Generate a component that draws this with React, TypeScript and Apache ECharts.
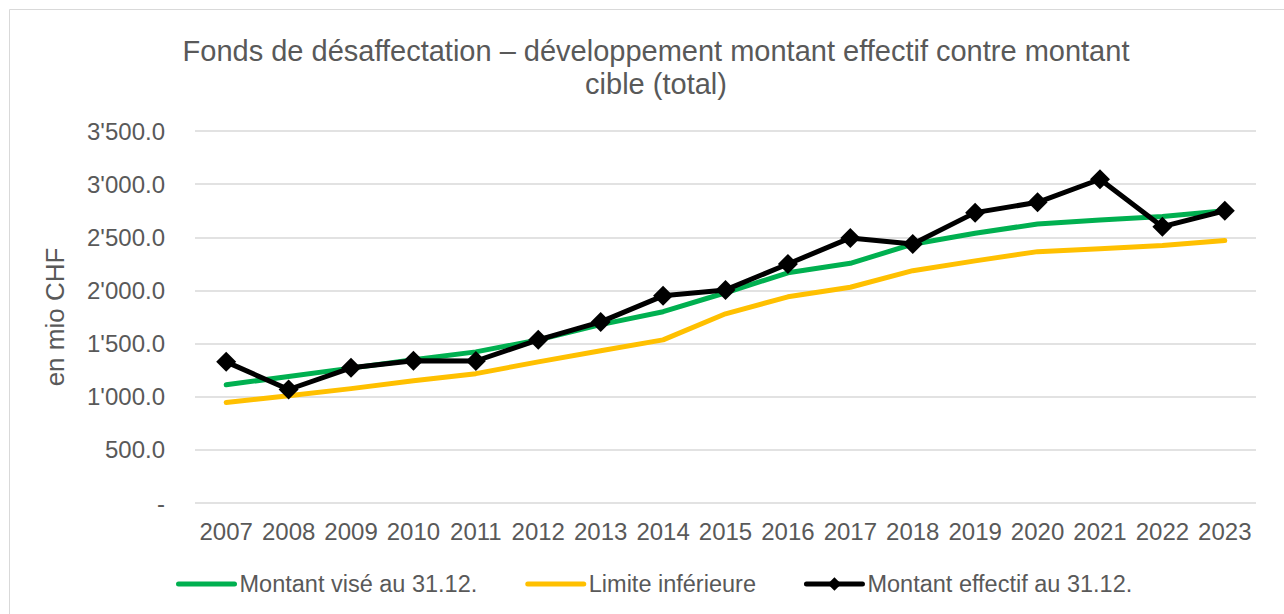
import React, { useEffect, useRef } from "react";
import * as echarts from "echarts";

const years = ["2007","2008","2009","2010","2011","2012","2013","2014","2015","2016","2017","2018","2019","2020","2021","2022","2023"];
const montantVise = [1112, 1190, 1269, 1347, 1422, 1535, 1678, 1800, 1978, 2166, 2255, 2435, 2538, 2625, 2663, 2696, 2750];
const limiteInferieure = [945, 1009, 1076, 1151, 1217, 1328, 1433, 1535, 1780, 1940, 2030, 2186, 2278, 2365, 2393, 2422, 2469];
const montantEffectif = [1328, 1068, 1272, 1338, 1336, 1535, 1704, 1949, 2005, 2249, 2494, 2437, 2732, 2829, 3046, 2600, 2750];
const seriesNames = ["Montant visé au 31.12.", "Limite inférieure", "Montant effectif au 31.12."];
const titleText = "Fonds de désaffectation – développement montant effectif contre montant\ncible (total)";
const yAxisName = "en mio CHF";

const FONT = "'Liberation Sans', Arial, sans-serif";
const TXT = "#595959";

function fmt(v: number): string {
  if (v === 0) return "-";
  const s = v.toFixed(1);
  const [i, d] = s.split(".");
  return i.replace(/\B(?=(\d{3})+(?!\d))/g, "'") + "." + d;
}

export default function App() {
  const ref = useRef<HTMLDivElement>(null);
  useEffect(() => {
    if (!ref.current) return;
    const chart = echarts.init(ref.current, undefined, { renderer: "svg" });
    chart.setOption({
      animation: false,
      backgroundColor: "#ffffff",
      textStyle: { fontFamily: FONT },
      title: {
        text: titleText,
        left: 651,
        top: 29,
        textAlign: "center",
        textStyle: { fontFamily: FONT, fontSize: 29, fontWeight: "normal", color: TXT, lineHeight: 33 },
      },
      graphic: [
        {
          type: "rect",
          shape: { x: 9.5, y: 9.5, width: 1290, height: 620 },
          style: { fill: "none", stroke: "#d9d9d9", lineWidth: 1 },
          silent: true,
        },
      ],
      legend: {
        left: 176,
        top: 572,
        padding: 0,
        itemWidth: 56,
        itemHeight: 17,
        itemGap: 48,
        textStyle: { fontFamily: FONT, fontSize: 23.5, color: TXT },
        lineStyle: { width: 5 },
        data: [
          { name: seriesNames[0], itemStyle: { opacity: 0 } },
          { name: seriesNames[1], itemStyle: { opacity: 0 } },
          { name: seriesNames[2] },
        ],
      },
      grid: { left: 195, right: 28, top: 131, bottom: 111, containLabel: false },
      xAxis: {
        type: "category",
        data: years,
        boundaryGap: true,
        axisLine: { show: false },
        axisTick: { show: false },
        axisLabel: { fontFamily: FONT, fontSize: 24, color: TXT, margin: 16, interval: 0 },
      },
      yAxis: {
        type: "value",
        min: 0,
        max: 3500,
        interval: 500,
        name: yAxisName,
        nameLocation: "middle",
        nameRotate: 90,
        nameGap: 127,
        nameTextStyle: { fontFamily: FONT, fontSize: 26, color: TXT },
        axisLine: { show: false },
        axisTick: { show: false },
        splitLine: { lineStyle: { color: "#d9d9d9", width: 1.5 } },
        axisLabel: { fontFamily: FONT, fontSize: 24, color: TXT, margin: 30, formatter: (v: number) => fmt(v) },
      },
      series: [
        {
          name: seriesNames[0],
          type: "line",
          data: montantVise,
          symbol: "none",
          z: 2,
          itemStyle: { color: "#00b050" },
          lineStyle: { color: "#00b050", width: 5, cap: "round", join: "round" },
        },
        {
          name: seriesNames[1],
          type: "line",
          data: limiteInferieure,
          symbol: "none",
          z: 2,
          itemStyle: { color: "#ffc000" },
          lineStyle: { color: "#ffc000", width: 5, cap: "round", join: "round" },
        },
        {
          name: seriesNames[2],
          type: "line",
          data: montantEffectif,
          symbol: "diamond",
          symbolSize: 20,
          z: 3,
          itemStyle: { color: "#000000" },
          lineStyle: { color: "#000000", width: 5, cap: "round", join: "round" },
        },
      ],
    });
    return () => chart.dispose();
  }, []);
  return <div ref={ref} style={{ position: "fixed", left: 0, top: 0, width: 1284, height: 614 }} />;
}
